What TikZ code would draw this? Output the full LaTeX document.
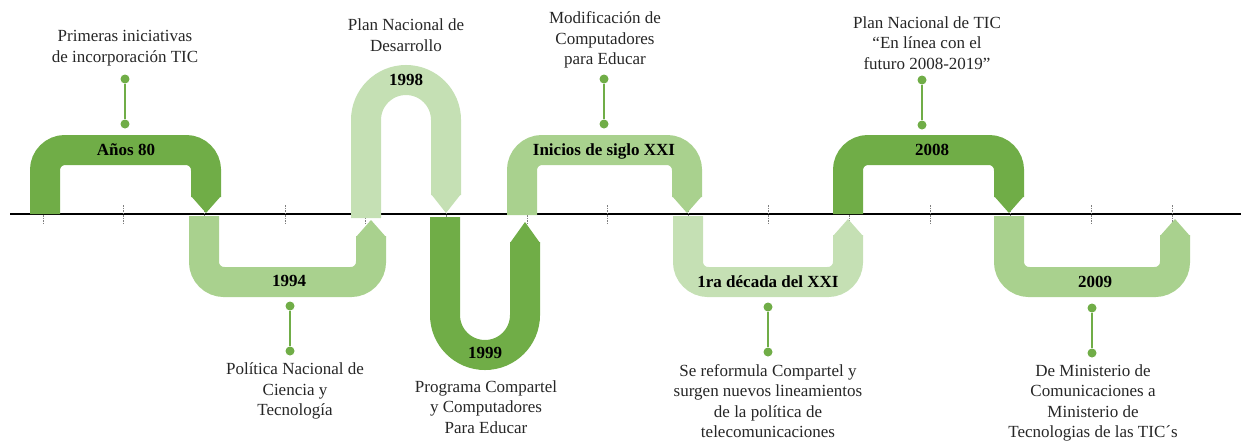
\documentclass[tikz,border=0pt]{standalone}
\usepackage{fontspec}
\setmainfont{Liberation Serif}
\definecolor{verdeA}{HTML}{70AD47}
\definecolor{verdeB}{HTML}{A9D18E}
\definecolor{verdeC}{HTML}{C5E0B4}
\begin{document}
\begin{tikzpicture}[x=1pt, y=-1pt,
    banda/.style={line width=30pt, rounded corners=20pt},
    punto/.style={circle, fill=verdeA, inner sep=0pt, minimum size=9pt},
    tallo/.style={verdeA, line width=2pt},
    anio/.style={font=\fontsize{17}{20}\selectfont\bfseries},
    texto/.style={align=center, text=black!85, font=\fontsize{17}{20.5}\selectfont},
    marca/.style={gray, line width=0.6pt, dash pattern=on 1.5pt off 1pt}]
    \useasboundingbox (0,0) rectangle (1241,440);

    % 時間軸と目盛り
    \draw[line width=1.6pt] (10,214) -- (1241,214);
    \foreach \i in {0,...,14}
        \draw[marca] ({43+80.64*\i},205) -- ++(0,20);

    % 帯（上向き・下向き）
    \draw[banda, verdeA] (45,214) -- (45,150) -- (206,150) -- (206,197);
    \fill[verdeA] (191,196) -- (221,196) -- (206,213) -- cycle;
    \draw[banda, verdeB] (204,216) -- (204,282) -- (371,282) -- (371,236);
    \fill[verdeB] (356,237) -- (386,237) -- (371,220) -- cycle;
    \draw[banda, verdeC, rounded corners=40pt] (366,218) -- (366,80) -- (446,80) -- (446,195);
    \fill[verdeC] (431,194) -- (461,194) -- (446,213) -- cycle;
    \draw[banda, verdeA, rounded corners=40pt] (445,217) -- (445,355) -- (525,355) -- (525,242);
    \fill[verdeA] (510,243) -- (540,243) -- (525,222) -- cycle;
    \draw[banda, verdeB] (522,215) -- (522,150) -- (687,150) -- (687,197);
    \fill[verdeB] (672,196) -- (702,196) -- (687,213) -- cycle;
    \draw[banda, verdeC] (688,216) -- (688,282) -- (848,282) -- (848,235);
    \fill[verdeC] (833,236) -- (863,236) -- (848,219) -- cycle;
    \draw[banda, verdeA] (848,214) -- (848,150) -- (1009,150) -- (1009,197);
    \fill[verdeA] (994,196) -- (1024,196) -- (1009,213) -- cycle;
    \draw[banda, verdeB] (1009,216) -- (1009,282) -- (1175,282) -- (1175,235);
    \fill[verdeB] (1160,236) -- (1190,236) -- (1175,219) -- cycle;

    % 年のラベル
    \node[anio] (a80) at (126,150) {Años 80};
    \node[anio] (a94) at (289,281) {1994};
    \node[anio] (a98) at (406,80) {1998};
    \node[anio] (a99) at (485,353) {1999};
    \node[anio] (a00) at (604,151) {Inicios de siglo XXI};
    \node[anio] (a01) at (768,282) {1ra década del XXI};
    \node[anio] (a08) at (932,150) {2008};
    \node[anio] (a09) at (1095,282) {2009};

    % 説明文
    \node[texto] (t80) at (125,48) {Primeras iniciativas\\de incorporación TIC};
    \node[texto] (t94) at (295,391) {Política Nacional de\\Ciencia y\\Tecnología};
    \node[texto] (t98) at (406,35) {Plan Nacional de\\Desarrollo};
    \node[texto] (t99) at (486,407) {Programa Compartel\\y Computadores\\Para Educar};
    \node[texto] (t00) at (605,40) {Modificación de\\Computadores\\para Educar};
    \node[texto] (t01) at (768,401) {Se reformula Compartel y\\surgen nuevos lineamientos\\de la política de\\telecomunicaciones};
    \node[texto] (t08) at (927,43) {Plan Nacional de TIC\\“En línea con el\\futuro 2008-2019”};
    \node[texto] (t09) at (1093,403) {De Ministerio de\\Comunicaciones a\\Ministerio de\\Tecnologias de las TIC´s};

    % 点と線
    \node[punto] (p80a) at (125,79) {};
    \node[punto] (p80b) at (125,124) {};
    \node[punto] (p94a) at (290,306) {};
    \node[punto] (p94b) at (290,351) {};
    \node[punto] (p00a) at (604,79) {};
    \node[punto] (p00b) at (604,124) {};
    \node[punto] (p01a) at (768,307) {};
    \node[punto] (p01b) at (768,352) {};
    \node[punto] (p08a) at (922,80) {};
    \node[punto] (p08b) at (922,125) {};
    \node[punto] (p09a) at (1092,308) {};
    \node[punto] (p09b) at (1092,353) {};
    \draw[tallo] (p80a) -- (p80b);
    \draw[tallo] (p94a) -- (p94b);
    \draw[tallo] (p00a) -- (p00b);
    \draw[tallo] (p01a) -- (p01b);
    \draw[tallo] (p08a) -- (p08b);
    \draw[tallo] (p09a) -- (p09b);
\end{tikzpicture}
\end{document}
